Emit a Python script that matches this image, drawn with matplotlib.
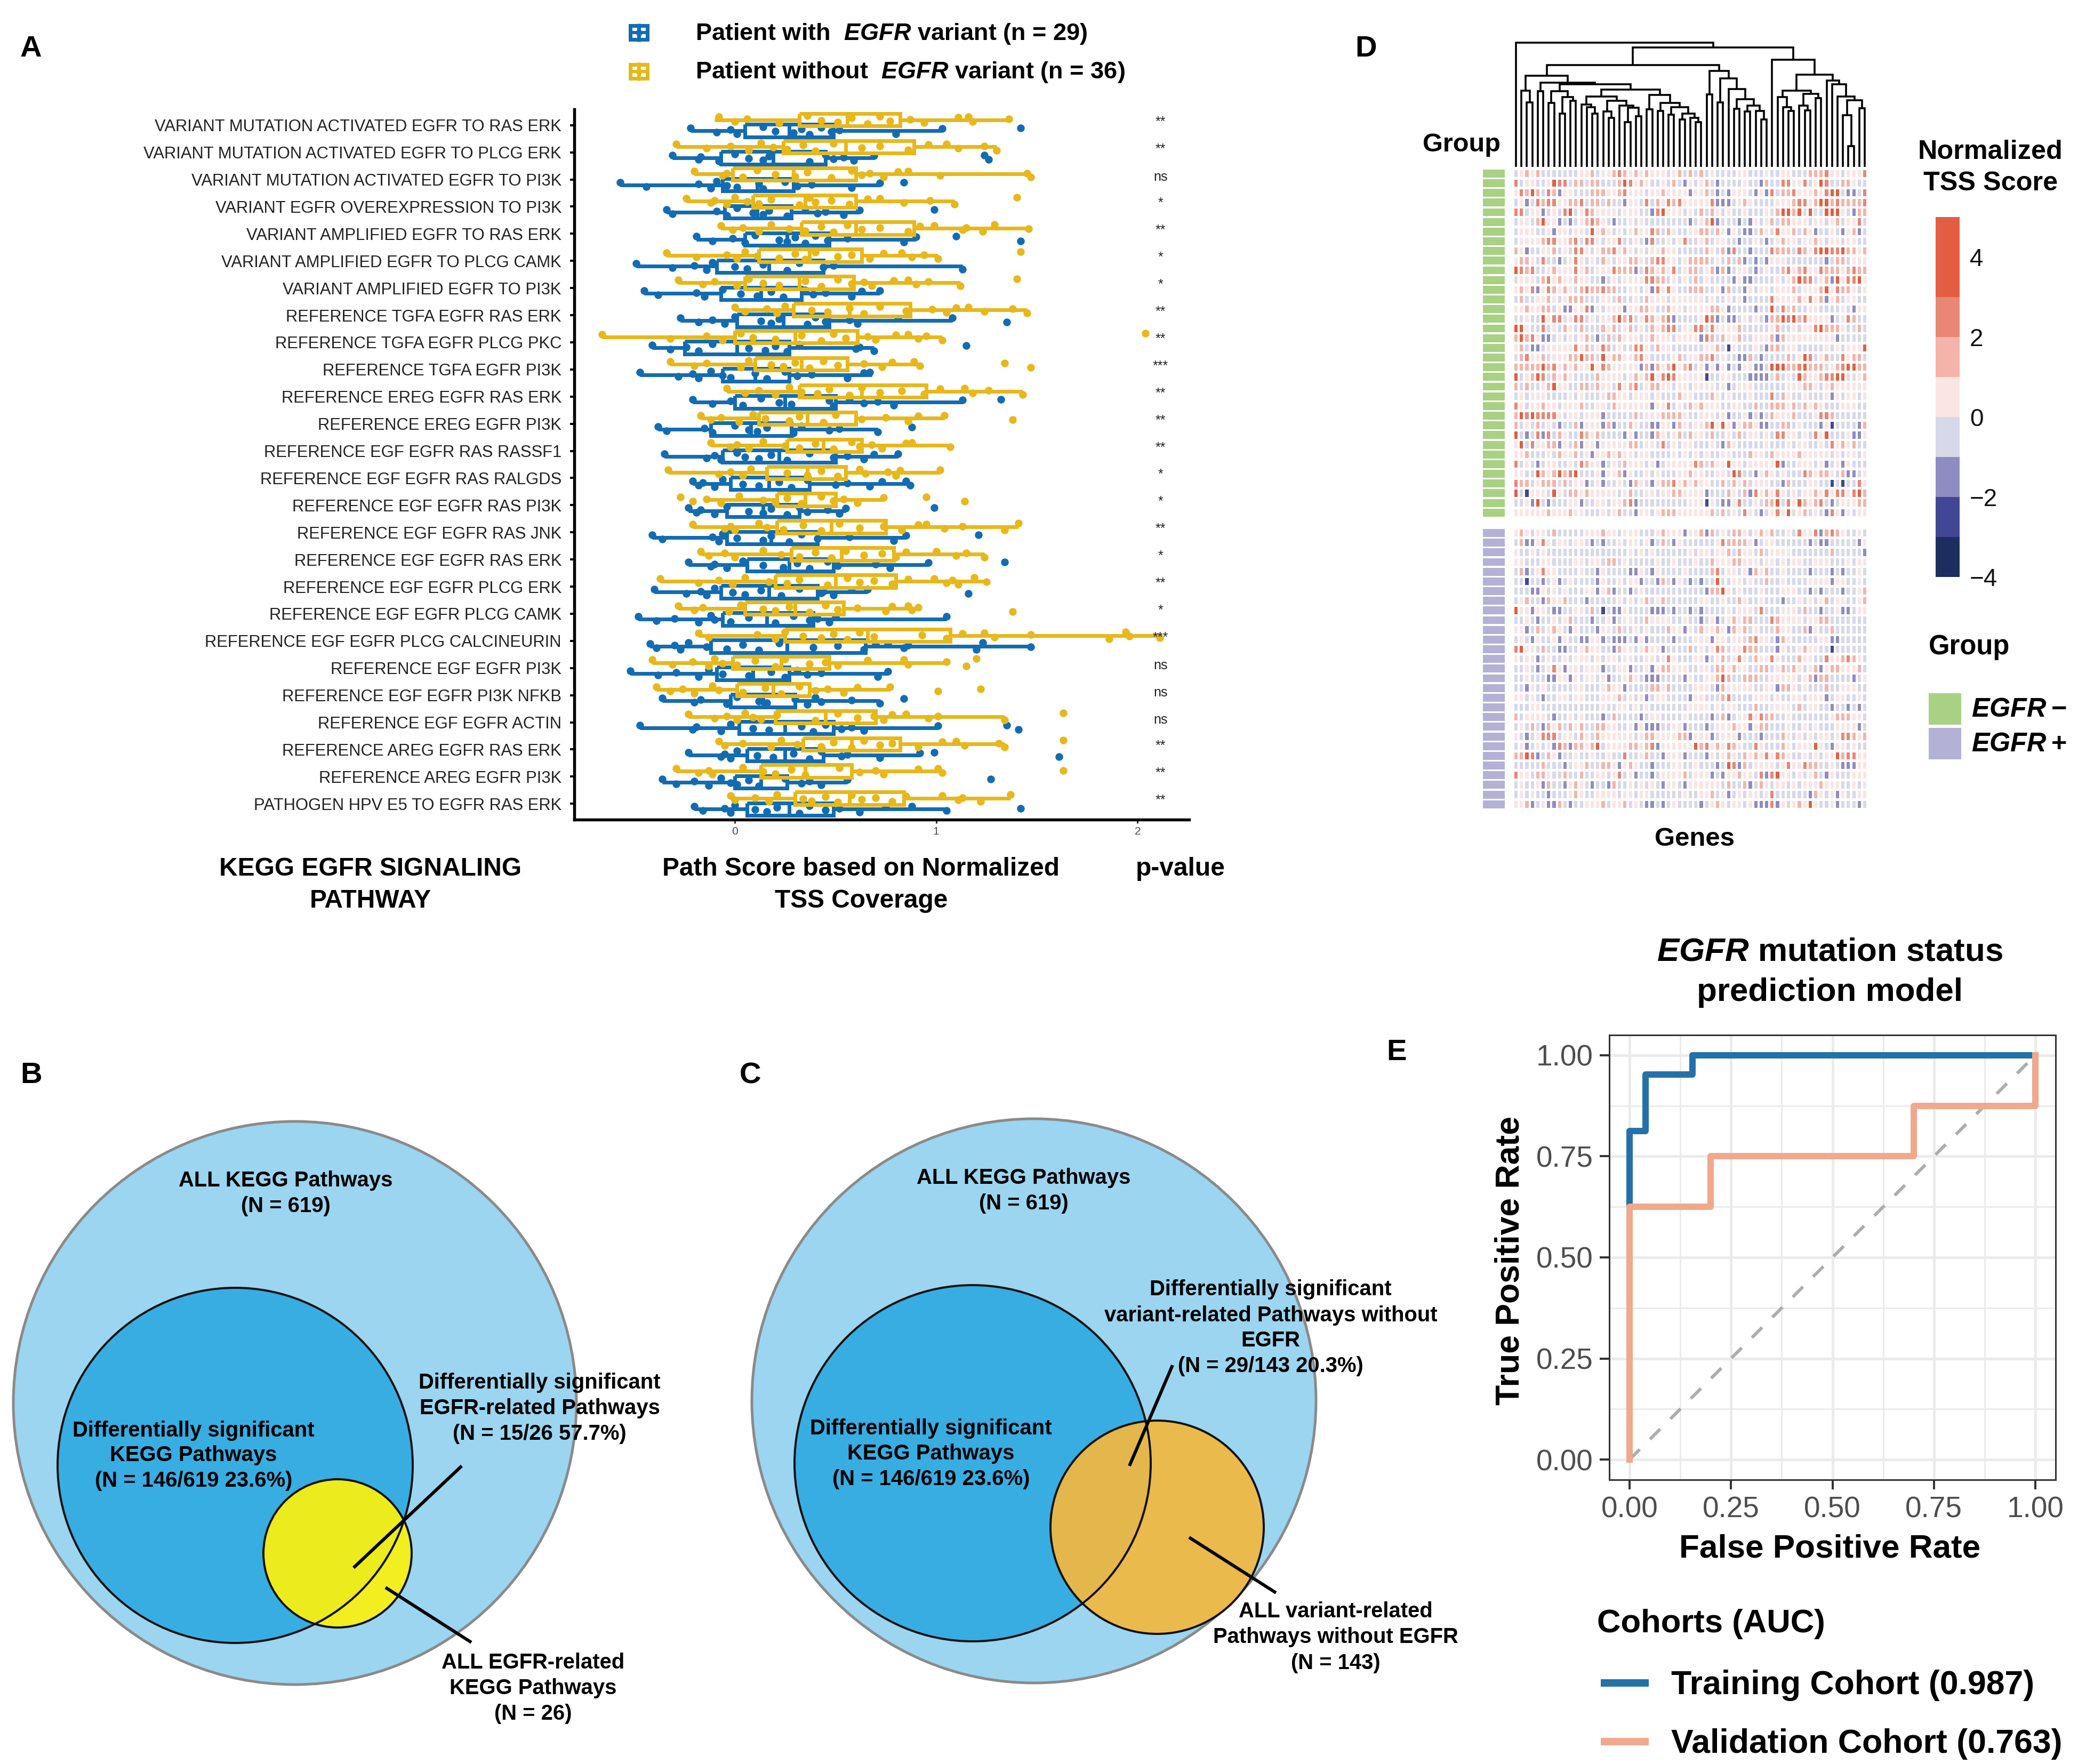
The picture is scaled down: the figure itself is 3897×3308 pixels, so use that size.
import numpy as np
import matplotlib
matplotlib.use("Agg")
import matplotlib.pyplot as plt
from matplotlib.patches import Circle, Rectangle
from matplotlib.colors import ListedColormap, BoundaryNorm

plt.rcParams['font.family'] = ['Liberation Sans', 'DejaVu Sans']
plt.rcParams['mathtext.fontset'] = 'custom'
plt.rcParams['mathtext.rm'] = 'Liberation Sans'
plt.rcParams['mathtext.bf'] = 'Liberation Sans:bold'
plt.rcParams['mathtext.it'] = 'Liberation Sans:italic'
plt.rcParams['mathtext.bfit'] = 'Liberation Sans:italic:bold'

W, H = 3897, 3308
DPI = 300
PT = 72 / DPI   # one pixel in points

# ---------------- Panel A data ----------------
pathways = ["VARIANT MUTATION ACTIVATED EGFR TO RAS ERK", "VARIANT MUTATION ACTIVATED EGFR TO PLCG ERK",
            "VARIANT MUTATION ACTIVATED EGFR TO PI3K", "VARIANT EGFR OVEREXPRESSION TO PI3K",
            "VARIANT AMPLIFIED EGFR TO RAS ERK", "VARIANT AMPLIFIED EGFR TO PLCG CAMK",
            "VARIANT AMPLIFIED EGFR TO PI3K", "REFERENCE TGFA EGFR RAS ERK",
            "REFERENCE TGFA EGFR PLCG PKC", "REFERENCE TGFA EGFR PI3K",
            "REFERENCE EREG EGFR RAS ERK", "REFERENCE EREG EGFR PI3K",
            "REFERENCE EGF EGFR RAS RASSF1", "REFERENCE EGF EGFR RAS RALGDS",
            "REFERENCE EGF EGFR RAS PI3K", "REFERENCE EGF EGFR RAS JNK",
            "REFERENCE EGF EGFR RAS ERK", "REFERENCE EGF EGFR PLCG ERK",
            "REFERENCE EGF EGFR PLCG CAMK", "REFERENCE EGF EGFR PLCG CALCINEURIN",
            "REFERENCE EGF EGFR PI3K", "REFERENCE EGF EGFR PI3K NFKB",
            "REFERENCE EGF EGFR ACTIN", "REFERENCE AREG EGFR RAS ERK",
            "REFERENCE AREG EGFR PI3K", "PATHOGEN HPV E5 TO EGFR RAS ERK"]
significance = ['**', '**', 'ns', '*', '**', '*', '*', '**', '**', '***', '**', '**', '**',
                '*', '*', '**', '*', '**', '*', '***', 'ns', 'ns', 'ns', '**', '**', '**']

# (whisker low, q1, median, q3, whisker high)
box_without = [(-.10, .32, .56, .82, 1.36), (-.29, .24, .55, .89, 1.30), (-.20, -.01, .29, .60, 1.47),
               (-.24, .09, .35, .60, 1.09), (-.07, .33, .60, .89, 1.46), (-.34, .12, .37, .63, 1.01),
               (-.28, .05, .32, .59, 1.12), (0, .29, .57, .87, 1.45), (-.66, 0, .30, .61, 1.03),
               (-.32, .10, .33, .56, .92), (-.04, .32, .63, .95, 1.43), (-.17, .12, .36, .60, 1.04),
               (-.12, .26, .44, .63, 1.07), (-.33, .16, .36, .55, 1.02), (-.14, .21, .35, .50, .74),
               (-.21, .21, .48, .75, 1.41), (-.17, .28, .53, .79, 1.24), (-.37, .20, .50, .80, 1.25),
               (-.28, .05, .30, .54, .91), (-.18, .25, .66, 1.07, 2.11), (-.41, -.01, .23, .47, 1.05),
               (-.39, .01, .19, .37, .77), (-.23, .20, .45, .70, 1.34), (-.06, .34, .58, .82, 1.34),
               (-.29, .13, .35, .58, 1.03), (-.02, .30, .57, .84, 1.37)]
box_with = [(-.22, .05, .27, .49, 1.03), (-.31, -.07, .19, .45, .69), (-.57, -.06, .11, .29, .72),
            (-.34, -.05, .11, .28, .62), (-.19, .05, .26, .47, .90), (-.49, -.09, .17, .44, 1.13),
            (-.45, -.07, .13, .33, .72), (-.27, .01, .24, .47, 1.08), (-.41, -.25, .01, .27, .69),
            (-.47, -.06, .10, .27, .68), (-.21, 0, .25, .50, 1.13), (-.38, -.12, .08, .28, .71),
            (-.35, -.06, .22, .50, .81), (-.21, -.02, .17, .37, .87), (-.23, -.04, .14, .32, .55),
            (-.41, -.04, .18, .41, .85), (-.23, .06, .27, .49, .96), (-.40, -.07, .17, .41, .66),
            (-.48, -.06, .16, .39, 1.05), (-.42, -.12, .26, .65, 1.47), (-.52, -.09, .09, .27, .76),
            (-.36, -.02, .14, .30, .72), (-.47, .02, .25, .49, 1.01), (-.23, .06, .25, .44, .92),
            (-.36, 0, .13, .26, .56), (-.20, .06, .27, .49, 1.05)]

points_without = [
    [-.08, 0, .06, .22, .36, .43, .51, .58, .66, .72, .77, .87, .94, 1.11, 1.16, 1.18, 1.36],
    [-.29, -.14, -.02, .07, .13, .19, .26, .34, .40, .49, .63, .72, .86, .96, 1.05, 1.11, 1.24, 1.30],
    [-.20, -.06, -.04, .04, .11, .20, .30, .36, .48, .58, .63, .67, .74, .81, .86, 1.02, 1.45, 1.47],
    [-.24, -.12, -.10, -.04, 0, .06, .12, .18, .32, .37, .40, .48, .57, .66, .72, .84, .97, 1.09, 1.40],
    [-.07, -.01, .04, .12, .18, .27, .35, .43, .49, .56, .63, .72, .86, .92, .99, 1.13, 1.15, 1.23, 1.29, 1.46],
    [-.34, -.19, -.04, .01, .05, .11, .22, .30, .35, .40, .51, .58, .67, .74, .83, .88, .94, 1.01, 1.42],
    [-.28, -.16, -.10, .01, .07, .14, .22, .35, .43, .51, .58, .64, .68, .79, .86, .90, .96, 1.12, 1.40],
    [0, .05, .16, .21, .25, .38, .46, .57, .64, .72, .85, .98, 1.05, 1.10, 1.16, 1.24, 1.38, 1.45],
    [-.66, -.32, -.14, -.06, .03, .09, .20, .33, .43, .49, .55, .66, .70, .80, .86, .91, .95, 1.03, 2.04],
    [-.32, -.20, -.14, .03, .07, .18, .24, .30, .37, .44, .51, .64, .73, .78, .89, .92, 1.34, 1.47],
    [-.04, .05, .12, .20, .27, .33, .41, .47, .57, .63, .72, .83, .94, 1.02, 1.14, 1.18, 1.26, 1.43],
    [-.17, -.12, -.07, .02, .09, .15, .27, .32, .44, .50, .63, .75, .86, .91, 1.04, 1.38],
    [-.12, -.02, .01, .07, .14, .25, .32, .40, .49, .58, .62, .68, .73, .85, .88, 1.07],
    [-.33, -.08, -.02, .04, .08, .26, .36, .43, .51, .62, .65, .76, .80, .82, 1.02],
    [-.27, -.21, -.14, -.07, .02, .14, .20, .26, .33, .43, .49, .54, .61, .74, .95, 1.14],
    [-.21, -.05, -.02, 0, .12, .16, .24, .34, .43, .52, .62, .74, .83, .91, .95, 1.04, 1.13, 1.34, 1.41],
    [-.17, -.13, -.05, 0, .14, .23, .32, .40, .48, .55, .64, .73, .80, .85, 1.00, 1.10, 1.15, 1.24],
    [-.37, -.18, -.08, -.01, .05, .17, .26, .32, .46, .56, .62, .69, .78, .86, .99, 1.05, 1.08, 1.11, 1.19, 1.25],
    [-.28, -.20, -.16, -.03, .03, .14, .20, .27, .37, .45, .51, .61, .75, .78, .86, .88, .91, 1.38],
    [-.18, -.13, .11, .20, .25, .34, .43, .49, .56, .62, .69, .93, 1.05, 1.13, 1.24, 1.29, 1.47, 1.86, 1.94, 1.96, 2.11],
    [-.41, -.31, -.21, -.13, -.10, -.06, .01, .10, .20, .25, .37, .45, .51, .66, .84, .86, 1.05, 1.15, 1.20],
    [-.39, -.32, -.26, -.20, -.11, -.08, .04, .15, .23, .32, .40, .46, .54, .61, .77, 1.01, 1.22],
    [-.23, -.10, -.04, .01, .05, .09, .13, .21, .40, .51, .61, .69, .74, .78, .85, .96, 1.01, 1.34, 1.63],
    [-.08, -.05, .04, .18, .23, .31, .43, .49, .58, .64, .72, .78, .91, 1.03, 1.10, 1.14, 1.31, 1.34, 1.63],
    [-.29, -.18, -.13, -.11, .04, .14, .20, .28, .35, .52, .62, .70, .74, .91, 1.01, 1.03, 1.63],
    [-.02, 0, .10, .17, .21, .34, .38, .45, .51, .58, .63, .70, .78, .85, 1.03, 1.11, 1.13, 1.22, 1.37],
]
points_with = [
    [-.22, -.09, -.02, .01, .14, .20, .29, .33, .37, .43, .48, .52, .80, 1.03, 1.42],
    [-.31, -.18, -.17, -.08, 0, .07, .14, .17, .37, .45, .49, .54, .59, .69, 1.24, 1.26],
    [-.57, -.44, -.18, -.12, -.09, -.04, .01, .12, .14, .25, .31, .38, .58, .72, .84],
    [-.34, -.31, -.09, -.04, .01, .09, .14, .17, .26, .35, .41, .45, .54, .62, .99],
    [-.19, -.11, -.01, .05, .10, .22, .26, .30, .35, .40, .46, .56, .84, .90, 1.10, 1.42],
    [-.49, -.31, -.20, -.14, -.11, 0, .06, .14, .26, .32, .44, .49, 1.13],
    [-.45, -.38, -.19, -.15, -.06, .03, .11, .18, .24, .35, .39, .45, .58, .63, .72],
    [-.27, -.18, -.11, -.05, 0, .13, .18, .22, .36, .40, .45, .57, .61, .81, 1.08, 1.35],
    [-.41, -.32, -.24, -.18, -.11, .07, .15, .20, .26, .32, .60, .62, .69, 1.15],
    [-.47, -.28, -.21, -.18, -.12, -.06, -.02, .10, .16, .25, .31, .38, .56, .64, .67],
    [-.21, -.11, -.02, .04, .13, .22, .28, .47, .49, .57, .64, .71, .79, 1.13, 1.32],
    [-.38, -.34, -.15, -.11, 0, .07, .11, .16, .29, .33, .47, .52, .71, .88],
    [-.35, -.14, -.10, -.07, .01, .05, .12, .18, .26, .37, .49, .56, .64, .69, .81],
    [-.21, -.18, -.16, -.10, -.06, .04, .12, .22, .28, .36, .50, .56, .67, .73, .85, .87],
    [-.23, -.19, -.17, -.10, -.04, .07, .14, .18, .26, .32, .36, .46, .52, .55, .99],
    [-.41, -.36, -.11, -.08, -.06, .01, .14, .18, .27, .33, .41, .57, .79, .85, 1.21],
    [-.23, -.12, -.10, -.04, .04, .14, .24, .31, .37, .46, .51, .70, .77, .96, 1.34],
    [-.40, -.24, -.17, -.14, -.10, -.01, .05, .13, .23, .32, .43, .44, .49, .58, .66, 1.16],
    [-.48, -.39, -.30, -.18, -.12, -.10, -.02, .07, .20, .29, .37, .41, .47, .50, 1.05],
    [-.42, -.39, -.30, -.27, -.23, -.14, -.04, .04, .12, .22, .39, .51, .64, .70, .76, .84, .86, 1.20, 1.23, 1.47],
    [-.52, -.38, -.29, -.18, -.13, -.06, .07, .18, .25, .31, .36, .43, .71, .76],
    [-.36, -.20, -.17, -.04, .01, .12, .16, .30, .36, .40, .43, .58, .72, .84],
    [-.47, -.21, -.19, -.07, -.02, .09, .17, .33, .39, .45, .53, .58, .64, 1.01, 1.35, 1.41],
    [-.23, -.07, -.05, -.02, .01, .11, .19, .29, .37, .43, .53, .56, .72, .92, .99, 1.61],
    [-.36, -.29, -.20, -.13, -.07, -.02, .01, .07, .12, .25, .33, .37, .43, .56, 1.27],
    [-.20, -.16, -.05, -.02, 0, .10, .16, .21, .32, .37, .45, .52, .62, .75, .88, 1.05, 1.42],
]

# ---------------- Panel D data ----------------
# . 0..1   - -1..0   p 1..2   r 2..3   R >3   b -2..-1   B -3..-2   g missing
heat_negative = [
    "-.p.p ----- --..p -..pr p.p.p ...-. p-p-p -.--- -..-- -.--. .---p ppr.. -...r",
    "r-..- -.Rrr -pp-p p---p Rr.p. --.-p -b.-. p-b-- --.-- bp--r r..r- .Rr-- pp.--",
    ".rpRp -rpb. .---p pp..p r...- ..p.. ..b.. p-b-b ...-b .br-p pr... p.rRR -bb-r",
    "-.b-r prr.. ppr-p p-p-- b..-r -p.rp r.... .rbbb -.p.- ---.. .prr. pRRpr ppppr",
    "rr-.. b-.-r R-.rp ....- ...-- brR.. .-.-p -p.-. --.-- -.gpR RpRgR g-RRR .-bpp",
    "-..-p R..b- b-.pr p.-b- -.-.- ----- --b-. pRb-- -b-b. -.p-p p...- ..-.p -..r-",
    "-...- -.b.. -..-R .p.-. -.p.. rp-p. --..p p-p.b .-bb- p.gr. .p-p. b--.- b.pb-",
    "-.... prr.. pr-rr .-..r --.-b r--.- .r--. p-..- -b--. -b-.p ..-.. p.-.. -..--",
    "p.b-- ..p-. -rr.- .ppr. p.-.- ..p.. ----- p.-pb r--b- --rpp p-rp. rRRrr Rpp.p",
    ".pp.- r--b- .r.-. -p.-. .pp.- prr.. -.ppp p-.-p -pb-b -b... ----- --b-p p-...",
    "Rrpr- -.p.. .r.p- ...rp ppb-r p.p.r -.pp- .pbpb -..-b -.--p r.pr. .rppp .prpp",
    "g...- pr.p. .p..- -b-.- ....r rpp-. -.-p- .---- b.bb- ---.- .pRrr -.pbR .rrR.",
    ".p.rb .rp.p .-prp prpp- -..-. br.r. --ppp --.bp --b.- ..-.. .p-.. .pR.r pp.-.",
    "-p--. .p.-. ppp-- -..-p --.-p ...-. ..... -.--. -.b-- --r.. ..p.r .pb.p -..--",
    "..p.. pp-.b b..rb .-... b..pp .--p. .-... .pp.b ----b --R-r -p--. .---- .-b..",
    "gg.-- R.rrg .rr-. -..pR pr-.r p.prb ----. Rrb-b b-.-. -bppR rRpr. ...b- .rp--",
    "RR.-- r-.-p .-p-- -p.p- .p-.- p.prr -..rr gr... .p--- --.p- -.-.. rRppp .--p-",
    "pRpr. bb-.- .-.p- b-p-p ...-. p...- ....b rp-p. .p--. ..pbp ..... ....b -----",
    ".p-bb -.... .r.p- .rp-. --rr. -p..- ----- ..p-B .---. -bpp- ..--- --.-. -...R",
    "gpr.. p-... ppRpp -R.pp ..pr. ----. p-..p pr-.- -bbp- b---- p-.Rr -.p-- r.pp-",
    "ppppp Rpr.p .p..R .rp.. ...bp bp.pR .pr-. b.b.b -b..b b-RRR pprRp ppg.p rRRpp",
    "R-.pR r-p.p .---- p.... -.p.p R.rRr ..... B--.. ---bb bbgp- .-Rp. .prrR Rgg.p",
    "p-p-- .pR.. --pp- p..-r .pr-. pp..- ..-.. ..-.b -...- ----- ...pp .-.p. .....",
    "-.-.. .---- .-.-- -.pp. .-... -.--- p..-- -p.-. ---.- --r-p .--.- --.b. -..-.",
    "r.-.. p..-. ..p-- ..-p. ..... b..r- .-p.p ...-- ..--p --ppp .p-p. p.--- ...--",
    "pRrRr rrr.- ..-.. .b--- --p-. ..ppp p.--. ..-.b --.b- b-p.. .p--- .rrp- -----",
    "p-.-p -.-b- -pb.. .bpb- -p.-- bb..b p.-.. pR.R. b.pp. bb--p p-.-- -b.B- ---bp",
    "R-b-r br-p. --rp. p---- b.b-- bp.-. p-p.. -p--. -p-.. -.-rr ..-.- r.R-- -.bb.",
    ".R-r. .ppb. -pb.. b.... .pp-. .-r-. -..-- -.-bp .---- -.--- .-..- -.-r. p.p--",
    "..p-- -.-p. .p-.b ..p.p ..-.. ----. -.-.- .--.. ---p. .-p.. ..p.. ...-. -..-.",
    "r-.-b -..-- .-rp. .b-.- p...- .b-.. ...rp -p..R ..-.. ...Rb --... -.b-. b.---",
    "..--R p.pRp rR--- .b..p b.--. -.--- ..p.. --..- Rr--b .p.-. ---rp .pp.- pbb-.",
    "rpp-. ppp-p -..b- .b--. -bp.- b.ppr .p.p. .--p- p.p-. ..--b p---. .--B- B--r.",
    "R-B.. .-R.- pp.p. ....- .p--. .-..p p.... b---p .-pbr .p.r. -.-.. p.r.r r.rRp",
    "--.bR -b--- ..b-- ..-.. prb-- ----- --... B.-bb .r--. -ppR- r.Rp. pr-b- ...pp",
    "..... .p... p..-- -.-.p --b.. -.ppp ..... .p-p- .-r.- b-.r. Rg.p- .-br. b.-..",
]
heat_positive = [
    ".p.-. .-p-- ---.. .p..- ...-- -.p.. .b..p bp-.- pp.-. p.p-- .-r.. rbprp .--.-",
    "-pbb. r.-.. -..-b -b--. -..-. b-p-b .---- --.rp ppp.b -..-- ----b -bb-- ---b.",
    ".--.- .---- ----- ----- -.-.- .---- --.-. .-..p -p..- p-... .---- ---p- ----b",
    "..--- ..--- -..-. .-pp- .---- -.--. ---.- -p... pp... -..-. -..-- ...-- -.-..",
    "-pb-. r..-- --.-- b.--- -bb.- b.--- -.--- -pr-. .-.bp .p--. ----b ---b- b--.-",
    "--B-- b-.b- .---- b.--. -..b- -bp-b .-b-b --Rg- ..-.- -p--. ----. ...b. .--.-",
    "---bb .-.-. ---.. b.pb- -b-.- ----- ----- bppR. -.--- .---. ..--b -b--- b--.p",
    "-.p-- bp..p ---b- ----. -.-.p -.p-- ----. .--.- -p.-- .---b --.-. -.p-. .--.p",
    "R..b. .-bb- -..-p -B-bb .---- bbb-b --b-b ----. -...- r---. ..-p- -b--. bb-..",
    "--.-b --.-. p---b --.b- ..--p ....- -.--b -.b-. p.pp- --rp. ...-. .pp-- -----",
    "..b-p -.p.- b.--- b..-p --.-. ---p. .b.-p ..p.b p.p-. ---p. .--pb .--p- -----",
    "-.-b. --.b. --bb. .b-bb b-b.b ----b ---.. .b..- ..-pr ..-bp .---- -..bb -----",
    "rR..- p--bb --.p. .--bp ..-.p ..b-- --p-. -.rp- ..rpp ---b. --.p. .--B- -----",
    ".-..b -.--. -...- .-..- ..--. .-.r. ---.. b-.p- .r.-p ..r.- --p.. --r.. prp.-",
    "--.-b -.r.b ..-.. .b--. .b--. b.pp. ..--. .-pp. p..-- pp-.p -p.-. pb.pp ...p-",
    "--.-- -bb.. b.-.. -.b-- .p.-b bb--- -b.-- ..pRp --ppp --... ..-.p bpp-- --b-.",
    "--b.- .---- -..-- -.p.. b---- pp.p- ---.. .-bp. ....- -..bp p.-.- --p-- ...--",
    "..-.- b--.. -..-- -...p -.-.b -..-- --b.. ---pr ----. ..-.- -..-. ..b-. .--.-",
    "---.. ----- ----- -.--. .-.-. ----- --... .-.-. .---p --... .-p-. .--b- -b-b-",
    "p-... .-b-- .-.-- -b-p- ---b- ..--- -.--- -b-pb -..r. rpp-- .---- ---.p pp..-",
    "-.-p- bp.p- p.p-- pp..- -.b.b bb--. .b--- b-... p..b. pp--- .--.- .---. ...b-",
    ".-b-. rrr-. .-p.- p.... ..-.p p.... ppb.. .b-.. .b--- b---p .-.-. -..-. rrp.p",
    "-.b-. -.brp bpp.p R-... .pp.p rb... ...Rp r.p.r p.--r .---p .-... R.-b. .-.--",
    "ppRrb -p.b- -.--. --.-- r--.p --b.. .b--- b.-.p .-p.p .r.rp .--.- .-..R prr..",
    "----- p---b g..p- -pp.b .p.-- b---. .--.- --b-R rbp-. ...-. r..rp p--.- bbb..",
    "r..-p p.--p --p-- ..-.r -.b-- b-... .p-.. .b-b. .p..- rbrR. .-.-. p-b.- --...",
    "-.--. bp--b .p.-b --bp- -.-.- .-b.. -b... ...-p --pb- p.-.. -.-.. .p... --.-.",
    "-.-.- -b--- .p.-- ....- ..-.. ----- -.--. .p-.b -.-.. -.r-- ----b p.-.b .--..",
    "..pb- .bbp- b--.. .p-.. p-.-b b-b-. ----b -.p.- ..-.b bbrb. -.p.R .--.b ---b-",
]
level_value = {'.': 0.5, '-': -0.5, 'p': 1.5, 'r': 2.5, 'R': 3.5, 'b': -1.5, 'B': -2.5, 'g': np.nan}
score_bounds = [-4, -3, -2, -1, 0, 1, 2, 3, 5]
score_colors = ['#1C2E5E', '#414695', '#8E8CC0', '#D7D8EA', '#FAE5E3', '#F4B4AA', '#E98675', '#E35D42']


def N(height, left, right):
    return (height, left, right)


L = None  # a leaf
# dendrogram as nested merges (height, left, right)
clade_a = N(295, N(262, L, N(250, L, N(223, L, L))),
            N(278, N(232, L, N(205, L, L)), N(258, L, N(248, N(188, L, L), N(212, L, L)))))
clade_b = N(303, N(242, L, L),
            N(268, N(235, L, L), N(252, N(220, L, L), N(224, N(200, L, L), N(206, L, N(188, L, L))))))
clade_c = N(347, N(318, N(268, L, L), N(294, N(225, L, L), N(278, L, L))), N(325, clade_a, clade_b))
clade_d = N(382, N(320, L, N(270, L, L)), N(355, N(318, L, L), clade_c))
clade_e = N(403, N(305, L, L),
            N(372, N(272, L, L), N(327, L, N(284, N(245, L, L), N(258, N(232, L, L), N(235, L, N(200, L, L)))))))
clade_f = N(320, N(293, L, N(252, L, N(235, L, L))), N(306, N(258, L, N(238, L, L)), N(288, L, L)))
clade_g = N(362, L, N(347, L, N(295, L, N(280, N(218, L, N(88, L, L)), N(247, L, L)))))
tree = N(522, L, N(502, N(428, clade_d, clade_e), N(450, L, N(387, clade_f, clade_g))))

# ---------------- Panel E data ----------------
train_fpr = [0, 0, 0.04, 0.04, 0.155, 0.155, 1]
train_tpr = [0, 0.8125, 0.8125, 0.953, 0.953, 1, 1]
valid_fpr = [0, 0, 0.2, 0.2, 0.7, 0.7, 1, 1]
valid_tpr = [0, 0.625, 0.625, 0.75, 0.75, 0.875, 0.875, 1]
roc_ticks = [0, 0.25, 0.5, 0.75, 1]

YEL, BLU = '#E7B81C', '#136CB2'

fig = plt.figure(figsize=(W / DPI, H / DPI), dpi=DPI, facecolor='white')


def ax_px(x0, y0, x1, y1, **kw):
    return fig.add_axes([x0 / W, 1 - y1 / H, (x1 - x0) / W, (y1 - y0) / H], **kw)


ov = fig.add_axes([0, 0, 1, 1], zorder=0)
ov.set_xlim(0, W)
ov.set_ylim(H, 0)
ov.axis('off')


def T(x, y, s, size=10, weight='normal', ha='center', **kw):
    ov.text(x, y + 4, s, fontsize=size, fontweight=weight, ha=ha, va='center', **kw)


# panel letters
for letter, x, y in [('A', 38, 88), ('D', 2541, 88), ('B', 38, 2013), ('C', 1387, 2013), ('E', 2600, 1970)]:
    T(x, y, letter, 13.5, 'bold', ha='left')

# ================= Panel A =================
a = ax_px(1077, 205, 2230, 1537, zorder=2)
a.patch.set_alpha(0)
a.set_xlim(-0.797, 2.256)
a.set_ylim(25.585, -0.584)
rows = np.arange(len(pathways))
JIT = np.array([-.10, .06, -.03, .12, -.14, .02, .09, -.06, .14, -.12, .04, -.02, .11, -.08])
for boxes, pts, col, off, z in [(box_with, points_with, BLU, 0.2, 3), (box_without, points_without, YEL, -0.2, 4)]:
    stats = [dict(whislo=b[0], q1=b[1], med=b[2], q3=b[3], whishi=b[4], fliers=[]) for b in boxes]
    lp = dict(color=col, linewidth=7 * PT, solid_capstyle='butt', solid_joinstyle='miter')
    a.bxp(stats, positions=rows + off, widths=0.46, orientation='horizontal', showcaps=False,
          showfliers=False, manage_ticks=False, boxprops=lp, whiskerprops=lp, medianprops=lp, zorder=z)
    for r, vals in zip(rows, pts):
        jit = JIT[np.arange(len(vals)) % len(JIT)]
        a.scatter(vals, r + off + jit, s=(14.5 * PT) ** 2, color=col, linewidths=0, zorder=z + 0.5)
for r, s in zip(rows, significance):
    a.text(2.114, r - (0.09 if s == 'ns' else 0.12), s, fontsize=6, ha='center', va='center',
           color='#222222', zorder=6)
a.set_yticks(rows)
a.set_yticklabels(pathways, fontsize=7.46, color='#222222', va='center_baseline')
a.set_xticks([0, 1, 2])
a.set_xticklabels(['0', '1', '2'], fontsize=5, color='#4D4D4D')
a.tick_params(axis='y', length=5 * PT * 1.6, width=4 * PT, pad=16 * PT, color='black')
a.tick_params(axis='x', length=7 * PT, width=3 * PT, pad=6 * PT, color='#333333')
for s in ['top', 'right']:
    a.spines[s].set_visible(False)
for s in ['left', 'bottom']:
    a.spines[s].set_linewidth(5.5 * PT)

# legend of panel A
for y, col, label in [(61, BLU, r'Patient with  $\mathbfit{EGFR}$ variant (n = 29)'),
                      (134, YEL, r'Patient without  $\mathbfit{EGFR}$ variant (n = 36)')]:
    ov.add_patch(Rectangle((1182, y - 13), 32, 26, facecolor='white', edgecolor=col, linewidth=7 * PT))
    ov.plot([1198, 1198], [y - 17, y + 17], color=col, lw=7 * PT, solid_capstyle='butt')
    ov.plot([1182, 1214], [y, y], color=col, lw=6 * PT)
    ov.scatter([1198], [y], s=(12 * PT) ** 2, color=col, linewidths=0)
    T(1304, y - 2, label, 10.85, 'bold', ha='left')

T(695, 1626, 'KEGG EGFR SIGNALING', 11.5, 'bold')
T(695, 1685, 'PATHWAY', 11.5, 'bold')
T(1615, 1626, 'Path Score based on Normalized', 11.5, 'bold')
T(1615, 1685, 'TSS Coverage', 11.5, 'bold')
T(2214, 1626, 'p-value', 11.5, 'bold')

# ================= Panels B and C =================
SKY, MID, YLW, ORG = '#9BD5F0', '#38ADE2', '#FAF00F', '#F2B841'
venn_b = [(553, 2631, 528), (441, 2748, 333), (633, 2913, 139)]
venn_c = [(1939, 2627, 529), (1824, 2744, 334), (2170, 2864, 200)]
for circles, third in [(venn_b, YLW), (venn_c, ORG)]:
    big, mid, sub = circles
    ov.add_patch(Circle(big[:2], big[2], facecolor=SKY, edgecolor='#8A8A8A', linewidth=5 * PT, zorder=1))
    ov.add_patch(Circle(mid[:2], mid[2], facecolor=MID, edgecolor='none', zorder=1.1))
    ov.add_patch(Circle(sub[:2], sub[2], facecolor=third, edgecolor='none', alpha=0.93, zorder=1.2))
    ov.add_patch(Circle(mid[:2], mid[2], facecolor='none', edgecolor='#111111', linewidth=4 * PT, zorder=1.3))
    ov.add_patch(Circle(sub[:2], sub[2], facecolor='none', edgecolor='#111111', linewidth=4 * PT, zorder=1.3))
for (x0, y0, x1, y1) in [(866, 2749, 663, 2940), (723, 2977, 884, 3080),
                         (2199, 2560, 2118, 2749), (2230, 2883, 2393, 2987)]:
    ov.plot([x0, x1], [y0, y1], color='black', lw=6 * PT, zorder=1.4, solid_capstyle='butt')

venn_labels = [
    (536, [2211, 2259], ['ALL KEGG Pathways', '(N = 619)']),
    (363, [2680, 2726, 2774], ['Differentially significant', 'KEGG Pathways', '(N = 146/619 23.6%)']),
    (1012, [2590, 2638, 2686], ['Differentially significant', 'EGFR-related Pathways', '(N = 15/26 57.7%)']),
    (1000, [3115, 3163, 3211], ['ALL EGFR-related', 'KEGG Pathways', '(N = 26)']),
    (1920, [2206, 2254], ['ALL KEGG Pathways', '(N = 619)']),
    (1746, [2676, 2723, 2771], ['Differentially significant', 'KEGG Pathways', '(N = 146/619 23.6%)']),
    (2383, [2415, 2464, 2511, 2559], ['Differentially significant', 'variant-related Pathways without', 'EGFR',
                                      '(N = 29/143 20.3%)']),
    (2505, [3019, 3067, 3116], ['ALL variant-related', 'Pathways without EGFR', '(N = 143)']),
]
for x, ys, lines in venn_labels:
    for y, s in zip(ys, lines):
        ov.text(x, y + 3, s, fontsize=9.6, fontweight='bold', ha='center', va='center', zorder=2)

# ================= Panel D =================
cmap = ListedColormap(score_colors)
norm = BoundaryNorm(score_bounds, cmap.N)
matrix = np.array([[level_value[c] for c in r.replace(' ', '')[:65].ljust(65, '.')]
                   for r in heat_negative + heat_positive])
n_neg, n_pos = len(heat_negative), len(heat_positive)
PITCH_X, PITCH_Y = 10.22, 18.17
h = ax_px(2843 - 5.11, 325.3 - PITCH_Y / 2, 2843 + 64 * PITCH_X + 5.11, 1510 + PITCH_Y / 2, zorder=2)
h.set_xlim(-0.5, 64.5)
h.set_ylim((1510 - 325.3) / PITCH_Y + 0.5, -0.5)
h.axis('off')
row_y = np.r_[np.arange(n_neg), (999.5 - 325.3) / PITCH_Y + np.arange(n_pos)]
cols = np.arange(65)
for y, r in zip(row_y, matrix):
    colors = [cmap(norm(v)) if np.isfinite(v) else '#DEDEDE' for v in r]
    h.bar(cols, 0.74, width=0.6, bottom=y - 0.37, color=colors, linewidth=0)

# group annotation strip
g = ax_px(2781, 325.3 - PITCH_Y / 2, 2822, 1510 + PITCH_Y / 2, zorder=2)
g.set_xlim(0, 1)
g.set_ylim(h.get_ylim())
g.axis('off')
g.bar(np.full(n_neg, 0.5), 0.82, width=1, bottom=row_y[:n_neg] - 0.41, color='#A8D184', linewidth=0)
g.bar(np.full(n_pos, 0.5), 0.82, width=1, bottom=row_y[n_neg:] - 0.41, color='#B3B1D6', linewidth=0)

# dendrogram
d = ax_px(2843 - 5.11, 70, 2843 + 64 * PITCH_X + 5.11, 313, zorder=2)
d.set_xlim(-0.5, 64.5)
d.set_ylim(0, 522 * 243 / 233)
d.axis('off')
segs = []
counter = [0]


def walk(node):
    if node is None:
        x = counter[0]
        counter[0] += 1
        return x, 0
    hh, l, r = node
    xl, yl = walk(l)
    xr, yr = walk(r)
    segs.append(([xl, xl, xr, xr], [yl, hh, hh, yr]))
    return (xl + xr) / 2, hh


walk(tree)
for xs, ys in segs:
    d.plot(xs, ys, color='black', lw=3.6 * PT, solid_joinstyle='miter', solid_capstyle='butt')

T(2741, 268, 'Group', 11.7, 'bold')
T(3178, 1570, 'Genes', 11.8, 'bold')

# colour legend
T(3733, 281, 'Normalized', 12.1, 'bold')
T(3733, 340, 'TSS Score', 12.1, 'bold')
c = ax_px(3630, 407, 3675, 1082, zorder=2)
c.set_xlim(0, 1)
c.set_ylim(-4, 5)
for lo, hi, col in zip(score_bounds[:-1], score_bounds[1:], score_colors):
    c.bar(0.5, hi - lo, width=1, bottom=lo, color=col, linewidth=0)
c.set_xticks([])
c.yaxis.tick_right()
c.set_yticks([-4, -2, 0, 2, 4])
c.set_yticklabels(['\u22124', '\u22122', '0', '2', '4'], fontsize=11, color='#111111')
c.tick_params(axis='y', length=0, pad=19 * PT)
for s in c.spines.values():
    s.set_visible(False)
T(3617, 1210, 'Group', 12.2, 'bold', ha='left')
ov.add_patch(Rectangle((3617, 1300), 61, 59, facecolor='#A8D184', edgecolor='none'))
ov.add_patch(Rectangle((3617, 1365), 61, 59, facecolor='#B3B1D6', edgecolor='none'))
T(3697, 1327, r'$\mathbfit{EGFR-}$', 12.1, ha='left')
T(3697, 1392, r'$\mathbfit{EGFR+}$', 12.1, ha='left')

# ================= Panel E =================
e = ax_px(3018, 1941, 3855, 2775, zorder=2)
e.set_xlim(-0.05, 1.05)
e.set_ylim(-0.05, 1.05)
e.set_xticks(roc_ticks)
e.set_yticks(roc_ticks)
e.set_xticklabels(['%.2f' % v for v in roc_ticks], fontsize=13.2, color='#4D4D4D')
e.set_yticklabels(['%.2f' % v for v in roc_ticks], fontsize=13.2, color='#4D4D4D')
e.set_xticks([0.125, 0.375, 0.625, 0.875], minor=True)
e.set_yticks([0.125, 0.375, 0.625, 0.875], minor=True)
e.tick_params(axis='both', which='major', length=18 * PT, width=4 * PT, color='#333333', pad=12 * PT)
e.tick_params(axis='both', which='minor', length=0)
e.grid(True, which='major', color='#EBEBEB', lw=5 * PT)
e.grid(True, which='minor', color='#EBEBEB', lw=3 * PT)
e.set_axisbelow(True)
for s in e.spines.values():
    s.set_color('#333333')
    s.set_linewidth(3 * PT)
TRAIN, VALID = '#2471A8', '#F0A98C'
e.plot(train_fpr, train_tpr, color=TRAIN, lw=12 * PT, solid_joinstyle='round', zorder=3)
e.plot([0, 1], [0, 1], color='#ADADAD', lw=6 * PT, dashes=(4.5, 4.5), zorder=3.5)
e.plot(valid_fpr, valid_tpr, color=VALID, lw=12 * PT, solid_joinstyle='round', zorder=4)

T(3432, 1782, r'$\mathbfit{EGFR}$ mutation status', 14.85, 'bold')
T(3432, 1857, 'prediction model', 14.85, 'bold')
ov.text(2832, 2364, 'True Positive Rate', fontsize=15, fontweight='bold', rotation=90, ha='center', va='center')
T(3432, 2901, 'False Positive Rate', 14.9, 'bold')
T(2995, 3042, 'Cohorts (AUC)', 14.8, 'bold', ha='left')
for y, col, s in [(3156, TRAIN, 'Training Cohort (0.987)'), (3266, VALID, 'Validation Cohort (0.763)')]:
    ov.plot([3002, 3092], [y, y], color=col, lw=14 * PT, solid_capstyle='butt')
    T(3134, y, s, 15, 'bold', ha='left')

fig.savefig('out.png', dpi=DPI, facecolor='white')
